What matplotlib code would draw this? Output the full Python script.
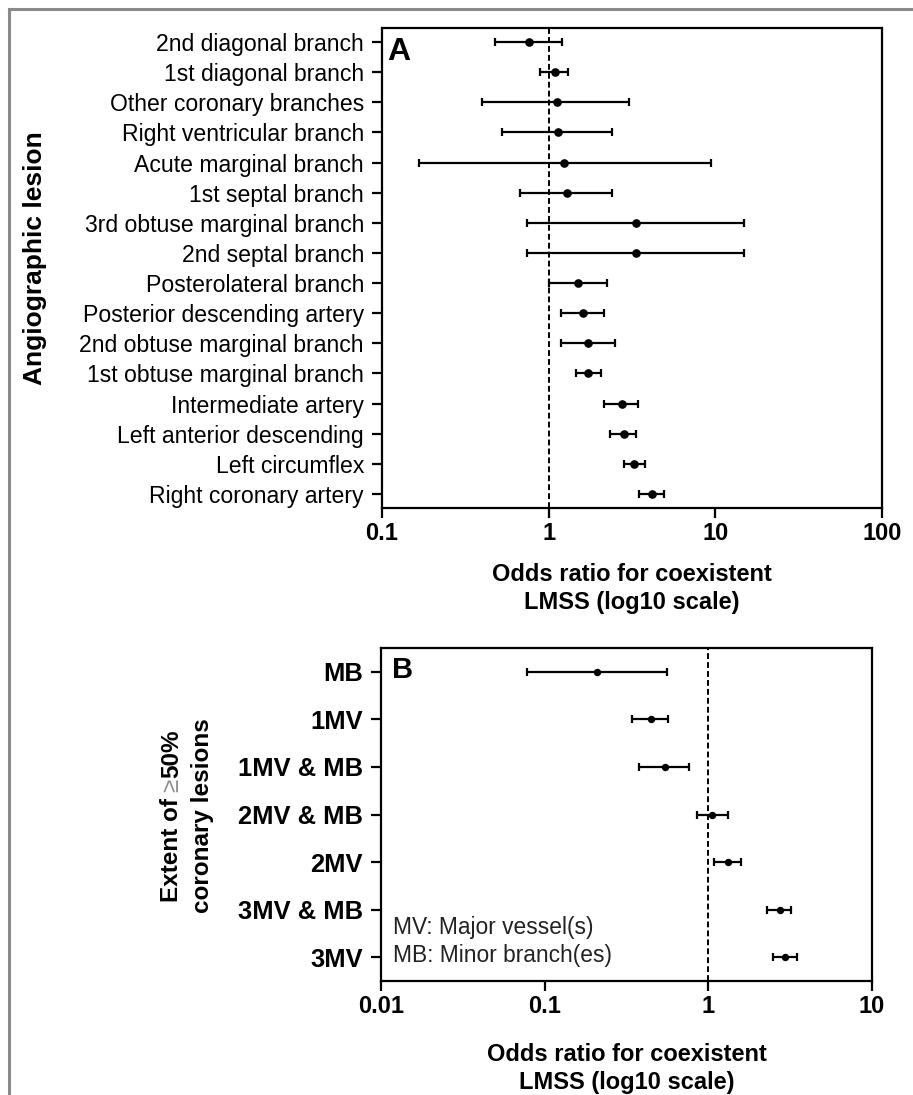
import numpy as np
import matplotlib
matplotlib.use("Agg")
import matplotlib.pyplot as plt
from matplotlib.lines import Line2D
from matplotlib.transforms import IdentityTransform

plt.rcParams['font.family'] = ['Liberation Sans', 'DejaVu Sans']

# Panel A data
lesions = ["2nd diagonal branch", "1st diagonal branch", "Other coronary branches",
           "Right ventricular branch", "Acute marginal branch", "1st septal branch",
           "3rd obtuse marginal branch", "2nd septal branch", "Posterolateral branch",
           "Posterior descending artery", "2nd obtuse marginal branch",
           "1st obtuse marginal branch", "Intermediate artery",
           "Left anterior descending", "Left circumflex", "Right coronary artery"]
or_a = [0.765, 1.09, 1.12, 1.14, 1.24, 1.29, 3.34, 3.34, 1.50, 1.61, 1.72, 1.73, 2.74, 2.83, 3.25, 4.15]
lo_a = [0.476, 0.89, 0.40, 0.527, 0.166, 0.673, 0.74, 0.74, 1.00, 1.18, 1.18, 1.45, 2.14, 2.34, 2.82, 3.47]
hi_a = [1.197, 1.31, 3.03, 2.41, 9.41, 2.41, 14.9, 14.9, 2.23, 2.16, 2.49, 2.05, 3.45, 3.34, 3.80, 4.92]
xticks_a = [0.1, 1, 10, 100]
xticklabels_a = ["0.1", "1", "10", "100"]

# Panel B data
extent = ["MB", "1MV", "1MV & MB", "2MV & MB", "2MV", "3MV & MB", "3MV"]
or_b = [0.210, 0.446, 0.542, 1.06, 1.32, 2.73, 2.96]
lo_b = [0.0775, 0.340, 0.375, 0.847, 1.08, 2.29, 2.47]
hi_b = [0.563, 0.566, 0.764, 1.315, 1.58, 3.22, 3.46]
xticks_b = [0.01, 0.1, 1, 10]
xticklabels_b = ["0.01", "0.1", "1", "10"]

W, H = 913, 1095
fig = plt.figure(figsize=(W / 100, H / 100), dpi=100)

def forest(ax, labels, est, lo, hi, ms, lw):
    y = np.arange(len(labels))
    est = np.array(est); lo = np.array(lo); hi = np.array(hi)
    ax.errorbar(est, y, xerr=[est - lo, hi - est], fmt='o', color='black',
                ms=ms, elinewidth=lw, capsize=2.9, capthick=lw, zorder=3)
    ax.axvline(1, color='black', ls=(0, (3, 1.6)), lw=1.4, zorder=2)
    ax.set_xscale('log')
    ax.set_yticks(y)
    ax.set_ylim(len(labels) - 0.5, -0.5)
    for s in ax.spines.values():
        s.set_linewidth(1.6)
    ax.tick_params(axis='both', direction='out', length=7, width=1.6)
    ax.tick_params(axis='y', pad=6)
    ax.tick_params(axis='x', pad=3)
    ax.xaxis.set_minor_locator(matplotlib.ticker.NullLocator())

# Panel A
axA = fig.add_axes([382 / W, 1 - 508 / H, 500 / W, 480 / H])
forest(axA, lesions, or_a, lo_a, hi_a, ms=5.2, lw=1.6)
axA.set_ylim(15.47, -0.47)
axA.set_yticklabels(lesions, fontsize=16.6)
axA.set_xlim(0.1, 100)
axA.set_xticks(xticks_a)
axA.set_xticklabels(xticklabels_a, fontsize=17, fontweight='bold')
axA.set_xlabel("Odds ratio for coexistent\nLMSS (log10 scale)", fontsize=17,
               fontweight='bold', labelpad=13, linespacing=1.3)
axA.set_ylabel("Angiographic lesion", fontsize=19, fontweight='bold')
axA.yaxis.set_label_coords(-0.67, 0.52)
axA.text(0.011, 0.982, "A", transform=axA.transAxes, fontsize=23,
         fontweight='bold', va='top', ha='left')

# Panel B
axB = fig.add_axes([381 / W, 1 - 981 / H, 491 / W, 333 / H])
forest(axB, extent, or_b, lo_b, hi_b, ms=4.3, lw=1.6)
axB.set_yticklabels(extent, fontsize=18.4, fontweight='bold')
axB.set_xlim(0.01, 10)
axB.set_xticks(xticks_b)
axB.set_xticklabels(xticklabels_b, fontsize=17, fontweight='bold')
axB.set_xlabel("Odds ratio for coexistent\nLMSS (log10 scale)", fontsize=17,
               fontweight='bold', labelpad=18, linespacing=1.3)
axB.text(0.022, 0.975, "B", transform=axB.transAxes, fontsize=21,
         fontweight='bold', va='top', ha='left')
axB.text(0.024, 0.16, "MV: Major vessel(s)", transform=axB.transAxes,
         fontsize=16.4, va='center', ha='left', color='#222222')
axB.text(0.024, 0.078, "MB: Minor branch(es)", transform=axB.transAxes,
         fontsize=16.4, va='center', ha='left', color='#222222')

# Panel B y-label, built from pieces (grey "≥")
ylab_pieces = [("Extent of ", 'black', 'bold'), ("\u2265", '#8c8c8c', 'normal'),
               ("50%", 'black', 'bold')]
ylab_line2 = "coronary lesions"
renderer = fig.canvas.get_renderer()
pix = IdentityTransform()
line1_x, line2_x, yc = 172, 203, H - 816
texts = []
for s, c, wgt in ylab_pieces:
    t = fig.text(line1_x, 0, s, transform=pix, rotation=90, ha='center',
                 va='bottom', fontsize=17.5, fontweight=wgt, color=c)
    texts.append(t)
lengths = []
for t in texts:
    bb = t.get_window_extent(renderer)
    lengths.append(bb.height)
# space width
sp = fig.text(0, 0, "a a", fontsize=17.5, fontweight='bold')
sp2 = fig.text(0, 0, "aa", fontsize=17.5, fontweight='bold')
space_w = sp.get_window_extent(renderer).width - sp2.get_window_extent(renderer).width
sp.remove(); sp2.remove()
if lengths[0] < texts[0].get_window_extent(renderer).height + 0.5:
    pass
total = sum(lengths)
y0 = yc - total / 2
pos = y0
for t, L in zip(texts, lengths):
    t.set_position((line1_x, pos))
    pos += L
fig.text(line2_x, yc, ylab_line2, transform=pix, rotation=90, ha='center',
         va='center', fontsize=17.5, fontweight='bold', color='black')

# outer gray frame (top and left)
fig.add_artist(Line2D([9 / W, 1], [1 - 9 / H, 1 - 9 / H], transform=fig.transFigure,
                      color='#8a8a8a', lw=2.2))
fig.add_artist(Line2D([9 / W, 9 / W], [0, 1 - 9 / H], transform=fig.transFigure,
                      color='#8a8a8a', lw=2.2))

fig.savefig("out.png", dpi=100)
